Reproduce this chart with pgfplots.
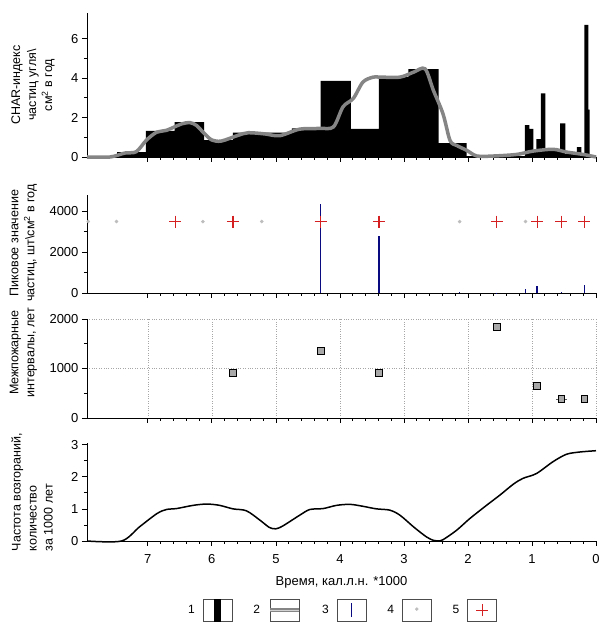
\documentclass[border=0pt]{standalone}
\usepackage{fontspec}
\setmainfont{Liberation Sans}
\usepackage{pgfplots}
\pgfplotsset{compat=1.18}
\definecolor{charline}{HTML}{858585}
\definecolor{peakblue}{HTML}{0A0A80}
\definecolor{firered}{HTML}{D42020}
\definecolor{dotgray}{HTML}{BDBDBD}
\definecolor{sqgray}{HTML}{A8A8A8}

\pgfplotsset{
  panel/.style={
    scale only axis, width=509pt,
    xmin=0, xmax=7.95, x dir=reverse,
    axis x line*=bottom, axis y line*=left,
    tick align=outside,
    xtick={0,...,7}, minor x tick num=4,
    major tick length=5pt, minor tick length=3pt,
    every tick/.style={black, line width=0.7pt},
    axis line style={line width=0.8pt},
    tick label style={font=\fontsize{13}{15}\selectfont},
    /pgf/number format/assume math mode=true,
    /pgf/number format/1000 sep={},
    ylabel style={align=center, font=\fontsize{12.5}{16}\selectfont, anchor=center},
    clip=false,
  },
}

\begin{document}
\begin{tikzpicture}
\useasboundingbox (0,0) rectangle (601pt,623pt);

% panel 1: CHAR index
\begin{axis}[panel, at={(87pt,466pt)}, anchor=south west, height=144pt,
  ymin=0, ymax=7.3, ytick={0,2,4,6}, minor y tick num=1, xticklabels={},
  ylabel={CHAR-индекс\\частиц угля\textbackslash\\см\textsuperscript{2} в год},
  ylabel style={at={(axis description cs:-0.106,0.5)}}]
\addplot[fill=black, draw=none, const plot mark left] coordinates {
  (0.00,0.05) (0.10,2.40) (0.12,6.70) (0.18,0.10) (0.23,0.50) (0.30,0.15)
  (0.48,1.70) (0.56,0.30) (0.64,0.40) (0.79,3.22) (0.86,0.91) (0.93,0.30)
  (0.98,1.42) (1.04,1.62) (1.11,0.04) (2.02,0.70) (2.46,4.46) (2.93,4.05)
  (3.39,1.43) (3.83,3.86) (4.30,1.45) (4.75,1.23) (5.67,0.86) (6.12,1.77)
  (6.58,1.32) (7.03,0.25) (7.48,0.00) (7.95,0.00)
} \closedcycle;
\addplot[charline, line width=3.5pt, smooth] coordinates {
  (0.00,0.00) (0.20,0.13) (0.46,0.25) (0.67,0.39) (0.98,0.30) (1.24,0.13)
  (1.60,0.05) (1.86,0.05) (2.02,0.34) (2.18,0.59) (2.28,0.84) (2.39,2.19)
  (2.54,3.38) (2.67,4.47) (2.85,4.30) (3.06,4.05) (3.37,4.05) (3.48,4.05)
  (3.64,3.80) (3.79,2.97) (3.95,2.55) (4.10,1.53) (4.31,1.45) (4.63,1.41)
  (4.94,1.08) (5.17,1.17) (5.43,1.23) (5.59,1.10) (5.85,0.81) (6.00,0.86)
  (6.12,1.20) (6.24,1.60) (6.34,1.74) (6.47,1.68) (6.71,1.35) (6.86,1.26)
  (7.02,0.86) (7.18,0.27) (7.36,0.20) (7.59,0.00) (7.95,0.00)
};
\end{axis}

% panel 2: peak values
\begin{axis}[panel, at={(87pt,330pt)}, anchor=south west, height=98pt,
  ymin=0, ymax=4800, ytick={0,2000,4000}, minor y tick num=1, xticklabels={},
  ylabel={Пиковое значение\\частиц, шт\textbackslash см\textsuperscript{2} в год},
  ylabel style={at={(axis description cs:-0.125,0.51)}}]
\addplot[ycomb, peakblue, line width=1.3pt] coordinates {
  (0.18,390) (0.54,50) (0.92,340) (1.10,180) (1.55,20) (2.13,30)
  (3.39,2775) (4.30,4380)
};
\addplot[only marks, mark=*, mark size=1.6pt, dotgray] coordinates {
  (7.93,3500) (7.49,3500) (6.14,3500) (5.22,3500) (2.13,3500) (1.10,3500)
};
\addplot[only marks, mark=+, mark size=6pt,
  mark options={draw=firered, line width=1.2pt}] coordinates {
  (6.57,3500) (5.67,3500) (4.30,3500) (3.39,3500) (1.55,3500)
  (0.92,3500) (0.54,3500) (0.18,3500)
};
\end{axis}

% panel 3: fire return intervals
\begin{axis}[panel, at={(87pt,205pt)}, anchor=south west, height=99pt,
  ymin=0, ymax=2000, ytick={0,1000,2000}, minor y tick num=1, xticklabels={},
  grid=major, major grid style={dotted, gray!70, line width=0.6pt},
  ylabel={Межпожарные\\интервалы, лет},
  ylabel style={at={(axis description cs:-0.125,0.66)}}]
\addplot[only marks, mark=none, error bars/.cd, x dir=both, x explicit,
  error mark=none, error bar style={gray!70!black, line width=1.4pt}]
  coordinates {(0.54,377) +- (0.09,0)};
\addplot[only marks, mark=square*, mark size=3.4pt,
  mark options={fill=sqgray, draw=black, line width=0.9pt}] coordinates {
  (5.67,915) (4.30,1360) (3.39,915) (1.55,1832) (0.92,646) (0.54,377) (0.18,377)
};
\end{axis}

% panel 4: fire frequency
\begin{axis}[panel, at={(87pt,82pt)}, anchor=south west, height=98pt,
  ymin=0, ymax=3.05, ytick={0,1,2,3}, minor y tick num=1,
  xticklabel style={yshift=-5pt},
  xlabel={Время, кал.л.н. *1000},
  xlabel style={font=\fontsize{13}{15}\selectfont, at={(axis description cs:0.5,-0.42)}, anchor=center},
  ylabel={Частота возгораний,\\количество\\за 1000 лет},
  ylabel style={align=left, at={(axis description cs:-0.108,0.5)}},
  legend plot pos=right,
  legend style={at={(axis description cs:0.5,-0.705)}, anchor=center, draw=none,
    legend columns=5, font=\fontsize{12}{14}\selectfont,
    /tikz/every odd column/.append style={column sep=6pt},
    /tikz/every even column/.append style={column sep=19pt}}]
\addplot[black, line width=1.5pt, smooth, forget plot] coordinates {
  (0.00,2.81) (0.25,2.77) (0.46,2.70) (0.67,2.47) (0.93,2.10) (1.14,1.95)
  (1.29,1.77) (1.50,1.43) (1.71,1.11) (1.97,0.70) (2.18,0.33) (2.39,0.04)
  (2.47,0.00) (2.54,0.02) (2.65,0.13) (2.85,0.44) (3.06,0.80) (3.22,0.96)
  (3.43,1.00) (3.64,1.08) (3.84,1.14) (4.05,1.11) (4.26,1.01) (4.47,0.98)
  (4.63,0.80) (4.89,0.47) (5.00,0.38) (5.10,0.42) (5.25,0.65) (5.46,0.94)
  (5.67,1.00) (5.88,1.11) (6.08,1.15) (6.29,1.11) (6.55,1.01) (6.71,0.98)
  (6.86,0.85) (7.13,0.44) (7.41,0.00) (7.95,0.00)
};
\addlegendimage{legend image code/.code={
  \draw[gray!60!black, line width=0.6pt, fill=white] (0pt,-11pt) rectangle (29pt,11pt);
  \fill[black] (11pt,-11pt) rectangle (17pt,11pt);}}
\addlegendentry{1}
\addlegendimage{legend image code/.code={
  \draw[gray!60!black, line width=0.6pt, fill=white] (0pt,-11pt) rectangle (29pt,11pt);
  \draw[charline, line width=4pt] (0pt,0pt) -- (29pt,0pt);
  \draw[gray!35, line width=1pt] (0pt,0pt) -- (29pt,0pt);}}
\addlegendentry{2}
\addlegendimage{legend image code/.code={
  \draw[gray!60!black, line width=0.6pt, fill=white] (0pt,-11pt) rectangle (29pt,11pt);
  \draw[peakblue, line width=1.3pt] (14.5pt,-7pt) -- (14.5pt,7pt);}}
\addlegendentry{3}
\addlegendimage{legend image code/.code={
  \draw[gray!60!black, line width=0.6pt, fill=white] (0pt,-11pt) rectangle (29pt,11pt);
  \fill[dotgray] (14.5pt,1pt) circle (1.5pt);}}
\addlegendentry{4}
\addlegendimage{legend image code/.code={
  \draw[gray!60!black, line width=0.6pt, fill=white] (0pt,-11pt) rectangle (29pt,11pt);
  \draw[firered, line width=0.9pt] (8.5pt,0pt) -- (20.5pt,0pt) (14.5pt,-6pt) -- (14.5pt,6pt);}}
\addlegendentry{5}
\end{axis}
\end{tikzpicture}
\end{document}
